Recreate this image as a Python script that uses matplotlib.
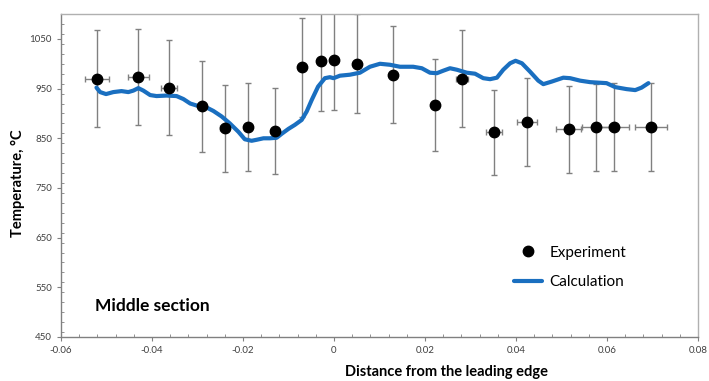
import matplotlib
matplotlib.use("Agg")
import matplotlib.pyplot as plt
from matplotlib.ticker import MultipleLocator, FuncFormatter

plt.rcParams['font.family'] = ['Lato', 'DejaVu Sans']

# experiment points (distance, temperature) with error bars
exp_x = [-0.0521, -0.0430, -0.0362, -0.0291, -0.0240, -0.0190, -0.0129, -0.0070,
         -0.0029, 0.0001, 0.0050, 0.0130, 0.0222, 0.0282, 0.0352, 0.0424,
         0.0516, 0.0575, 0.0615, 0.0697]
exp_t = [970, 974, 952, 914, 870, 873, 865, 993,
         1006, 1007, 1000, 978, 917, 970, 862, 883,
         868, 872, 873, 873]
exp_terr = [97, 97, 96, 91, 87, 88, 87, 100,
            101, 101, 100, 98, 92, 97, 86, 88,
            87, 87, 88, 88]
exp_xerr = [0.0026, 0.0023, 0.0018, 0.0, 0.0010, 0.0, 0.0, 0.0,
            0.0, 0.0, 0.0, 0.0, 0.0, 0.0013, 0.0018, 0.0022,
            0.0027, 0.0030, 0.0033, 0.0035]

# calculated curve
calc_x = [-0.0522, -0.0514, -0.0501, -0.0485, -0.0467, -0.0452, -0.0441, -0.0430,
          -0.0419, -0.0404, -0.0390, -0.0368, -0.0346, -0.0331, -0.0316, -0.0302,
          -0.0280, -0.0265, -0.0247, -0.0229, -0.0210, -0.0196, -0.0181, -0.0170,
          -0.0155, -0.0141, -0.0126, -0.0115, -0.0100, -0.0086, -0.0071, -0.0060,
          -0.0049, -0.0035, -0.0020, -0.0009, -0.0001, 0.0013, 0.0035, 0.0057,
          0.0079, 0.0101, 0.0123, 0.0145, 0.0174, 0.0193, 0.0211, 0.0226,
          0.0240, 0.0255, 0.0270, 0.0292, 0.0310, 0.0328, 0.0343, 0.0358,
          0.0372, 0.0387, 0.0399, 0.0413, 0.0431, 0.0449, 0.0460, 0.0478,
          0.0504, 0.0519, 0.0541, 0.0563, 0.0599, 0.0618, 0.0643, 0.0662,
          0.0676, 0.0691]
calc_t = [952, 943, 939, 943, 945, 943, 946, 951,
          946, 937, 935, 936, 935, 929, 920, 916,
          912, 905, 894, 880, 863, 848, 845, 847,
          850, 850, 851, 859, 869, 877, 887, 904,
          927, 954, 971, 973, 971, 976, 978, 982,
          994, 1000, 998, 994, 994, 991, 982, 981,
          986, 991, 988, 982, 980, 971, 969, 972,
          988, 1001, 1006, 1001, 984, 966, 959, 964,
          972, 971, 966, 963, 961, 953, 949, 947,
          952, 961]

fig = plt.figure(figsize=(7.09, 3.81), dpi=100)
ax = fig.add_axes([0.086, 0.1155, 0.8985, 0.8475])

ax.errorbar(exp_x, exp_t, yerr=exp_terr, xerr=exp_xerr, fmt='none',
            ecolor='#808080', elinewidth=1.0, capsize=2.5, capthick=1.0, zorder=2)
calc_line, = ax.plot(calc_x, calc_t, color='#1a6fc0', lw=3.0, zorder=3,
                     solid_capstyle='round', label='Calculation')
exp_pts, = ax.plot(exp_x, exp_t, 'o', color='black', ms=7.5, zorder=4,
                   label='Experiment')

ax.set_xlim(-0.06, 0.08)
ax.set_ylim(450, 1100)
ax.xaxis.set_major_locator(MultipleLocator(0.02))
ax.xaxis.set_minor_locator(MultipleLocator(0.004))
ax.yaxis.set_minor_locator(MultipleLocator(20))
ax.set_yticks([450, 550, 650, 750, 850, 950, 1050])
ax.xaxis.set_major_formatter(FuncFormatter(lambda v, p: '0' if abs(v) < 1e-9 else '%g' % v))

ax.tick_params(which='major', direction='out', length=3, color='#808080',
               labelsize=7, labelcolor='#404040', width=0.8)
ax.tick_params(which='minor', direction='in', length=2.5, color='#808080', width=0.6)

for s in ['left', 'bottom']:
    ax.spines[s].set_color('#808080')
    ax.spines[s].set_linewidth(1.0)
for s in ['top', 'right']:
    ax.spines[s].set_color('#b0b0b0')
    ax.spines[s].set_linewidth(1.0)

ax.set_xlabel('Distance from the leading edge', fontsize=10.5, fontweight='bold')
ax.xaxis.set_label_coords(0.605, -0.088)
ax.set_ylabel('Temperature, °C', fontsize=10.5, fontweight='bold')
ax.yaxis.set_label_coords(-0.056, 0.477)

ax.text(0.053, 0.08, 'Middle section', transform=ax.transAxes, fontsize=12.5,
        fontweight='bold', color='black')

ax.legend(handles=[exp_pts, calc_line], loc='upper left',
          bbox_to_anchor=(0.69, 0.325), frameon=False, fontsize=11,
          handlelength=1.8, labelspacing=1.0, handletextpad=0.5)

fig.savefig('out.png', dpi=100)
